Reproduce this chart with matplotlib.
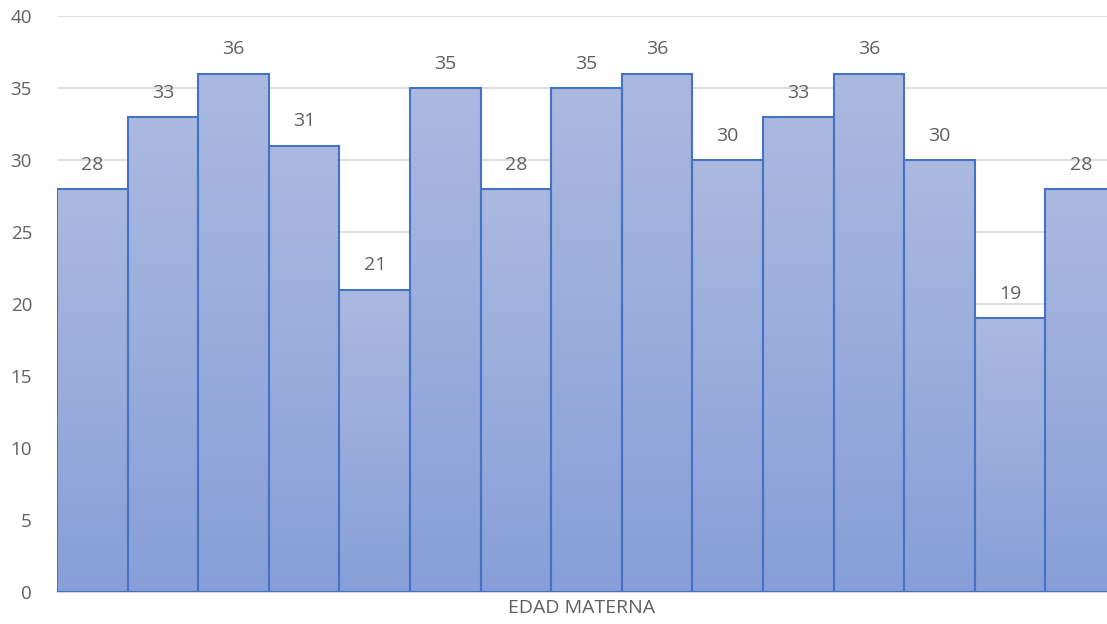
import numpy as np
import matplotlib.pyplot as plt
from matplotlib.colors import LinearSegmentedColormap

# frequency per age class
counts = [28, 33, 36, 31, 21, 35, 28, 35, 36, 30, 33, 36, 30, 19, 28]
xlabel = "EDAD MATERNA"
yticks = [0, 5, 10, 15, 20, 25, 30, 35, 40]

plt.rcParams['font.family'] = ['Open Sans', 'DejaVu Sans']
text_col = '#606060'

fig = plt.figure(figsize=(11.07, 6.24), dpi=100)
# plot area runs a little past the right edge of the canvas
ax = fig.add_axes([57 / 1107, 32 / 624, 1059 / 1107, (592 - 16) / 624])

x = np.arange(len(counts))
bars = ax.bar(x, counts, width=1.0, align='edge', color='none',
              edgecolor='#4472c4', linewidth=1.5, zorder=3)

# vertical gradient inside each bar, lighter at the top
cmap = LinearSegmentedColormap.from_list('g', ['#879fd8', '#abb9e0'])
grad = np.linspace(0, 1, 256).reshape(-1, 1)
for b, h in zip(bars, counts):
    im = ax.imshow(grad, cmap=cmap, origin='lower', aspect='auto',
                   extent=(b.get_x(), b.get_x() + b.get_width(), 0, h), zorder=2)
    im.set_clip_path(b)
    ax.annotate(str(h), (b.get_x() + b.get_width() / 2, h), xytext=(0, 11),
                textcoords='offset points', ha='center', va='bottom',
                fontsize=14, color=text_col)

ax.set_xlim(0, len(counts))
ax.set_ylim(0, 40)
ax.set_yticks(yticks)
ax.yaxis.grid(True, color='#d9d9d9', linewidth=1.2, zorder=0)
ax.set_axisbelow(True)
ax.set_xticks([])
ax.tick_params(axis='y', length=0, labelsize=13.5, labelcolor=text_col, pad=18)
for s in ['top', 'right', 'left']:
    ax.spines[s].set_visible(False)
ax.spines['bottom'].set_color('#d9d9d9')
ax.set_xlabel(xlabel, fontsize=14, color=text_col, labelpad=5)
# keep the axis title centred on the visible part of the plot
ax.xaxis.set_label_coords((582 - 57) / 1059, -0.0)
ax.xaxis.label.set_va('top')
ax.xaxis.label.set_y(-0.012)

fig.savefig('out.png', dpi=100)
